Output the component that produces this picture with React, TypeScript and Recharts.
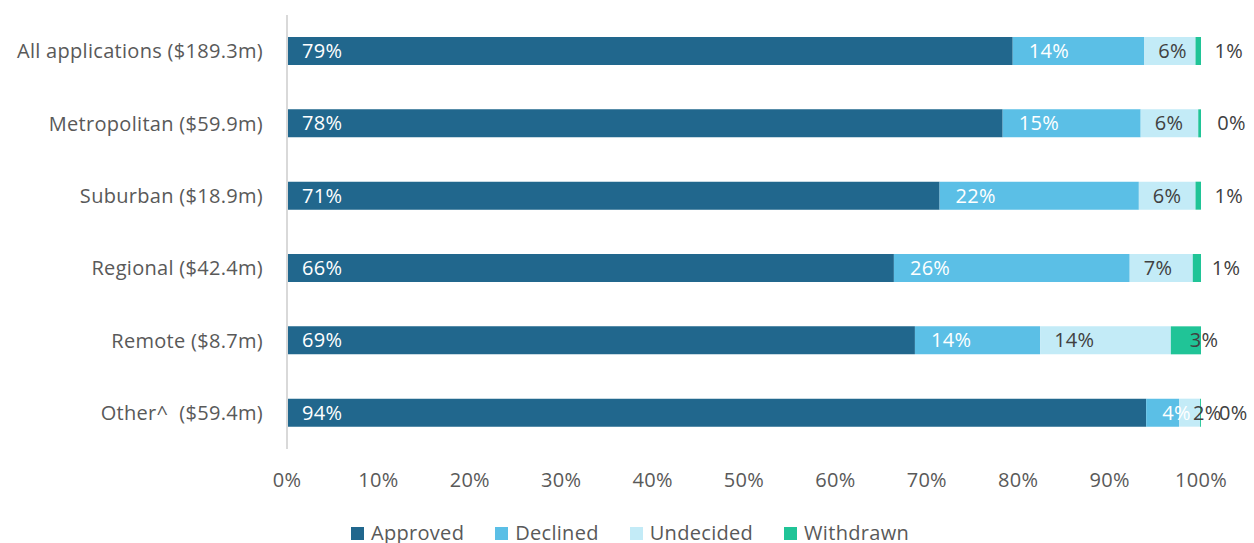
import React from 'react'
import { Bar, BarChart, LabelList, Legend, XAxis, YAxis } from 'recharts'

const categorias = [
  'All applications ($189.3m)',
  'Metropolitan ($59.9m)',
  'Suburban ($18.9m)',
  'Regional ($42.4m)',
  'Remote ($8.7m)',
  'Other^\u00A0 ($59.4m)',
]
const approved = [79.4, 78.3, 71.4, 66.4, 68.7, 94.0]
const declined = [14.4, 15.1, 21.8, 25.8, 13.7, 3.6]
const undecided = [5.6, 6.3, 6.2, 6.9, 14.3, 2.3]
const withdrawn = [0.6, 0.3, 0.6, 0.9, 3.3, 0.1]
const xTicks = [0, 10, 20, 30, 40, 50, 60, 70, 80, 90, 100]

const series = [
  { key: 'Approved', color: '#21678D', label: '#FFFFFF', offset: 15 },
  { key: 'Declined', color: '#5BBFE6', label: '#FFFFFF', offset: 16 },
  { key: 'Undecided', color: '#C3EBF7', label: '#404040', offset: 14 },
  { key: 'Withdrawn', color: '#20C497', label: '#404040', offset: 19 },
]

const data = categorias.map((nome, i) => ({
  nome,
  Approved: approved[i],
  Declined: declined[i],
  Undecided: undecided[i],
  Withdrawn: withdrawn[i],
}))

const FONT = '"Open Sans", sans-serif'
const txt = { fontSize: 20, fontFamily: FONT, letterSpacing: 0.3 }

function Legenda() {
  return (
    <div style={{ display: 'flex', justifyContent: 'center', height: 20, ...txt, color: '#595959', lineHeight: '20px', paddingLeft: 6 }}>
      {series.map((s, i) => (
        <div key={s.key} style={{ display: 'flex', alignItems: 'center', marginLeft: i === 0 ? 0 : 31 }}>
          <span style={{ width: 13, height: 13, background: s.color, display: 'inline-block', marginRight: 7 }} />
          <span>{s.key}</span>
        </div>
      ))}
    </div>
  )
}

function App() {
  return (
    <div style={{ position: 'absolute', left: 0, top: 0 }}>
      <BarChart
        width={1254}
        height={543}
        data={data}
        layout="vertical"
        margin={{ top: 15, right: 53, bottom: 0, left: 0 }}
        barSize={28}
      >
        <XAxis
          type="number"
          domain={[0, 100]}
          ticks={xTicks}
          tickFormatter={(v) => `${v}%`}
          axisLine={false}
          tickLine={false}
          tickSize={0}
          tickMargin={24}
          height={74}
          tick={{ fill: '#595959', ...txt }}
        />
        <YAxis
          type="category"
          dataKey="nome"
          width={287}
          axisLine={{ stroke: '#D9D9D9', strokeWidth: 2 }}
          tickLine={false}
          tickSize={0}
          tickMargin={24}
          tick={{ fill: '#595959', ...txt }}
        />
        <Legend
          verticalAlign="bottom"
          align="center"
          wrapperStyle={{ left: 0, width: 1254 }}
          content={<Legenda />}
        />
        {series.map((s) => (
          <Bar key={s.key} dataKey={s.key} stackId="a" fill={s.color} isAnimationActive={false}>
            <LabelList
              dataKey={s.key}
              position="insideLeft"
              offset={s.offset}
              formatter={(v: any) => `${Math.round(Number(v))}%`}
              fill={s.label}
              style={txt}
            />
          </Bar>
        ))}
      </BarChart>
    </div>
  )
}

export default App
